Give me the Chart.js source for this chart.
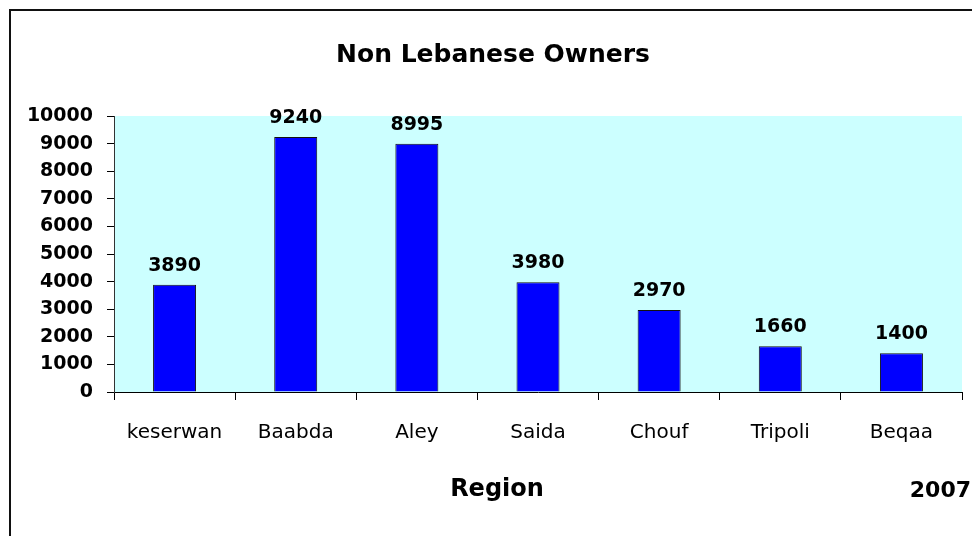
<!DOCTYPE html>
<html>
<head>
<meta charset="utf-8">
<script src="https://cdn.jsdelivr.net/npm/chart.js@4"></script>
<style>
  html, body { margin: 0; padding: 0; background: #fff; }
  #wrap { width: 972px; height: 536px; position: relative; }
</style>
</head>
<body>
<div id="wrap"><canvas id="ownersChart" width="972" height="536"></canvas></div>
<script>
// --- Data ---
const regions = ['keserwan', 'Baabda', 'Aley', 'Saida', 'Chouf', 'Tripoli', 'Beqaa'];
const owners = [3890, 9240, 8995, 3980, 2970, 1660, 1400];
const yMin = 0;
const yMax = 10000;
const yStep = 1000;
const chartTitle = 'Non Lebanese Owners';
const xTitle = 'Region';
const yearLabel = '2007';

const numFont = "'DejaVu Sans', sans-serif";
const comicFont = "'Comic Sans MS', 'DejaVu Sans', sans-serif";

// Plot background, frame and the loose texts
const decorations = {
    id: 'decorations',
    beforeDraw(chart) {
        const { ctx, chartArea } = chart;
        ctx.save();
        ctx.fillStyle = '#CCFFFF';
        ctx.fillRect(chartArea.left, chartArea.top, chartArea.right - chartArea.left, chartArea.bottom - chartArea.top);
        ctx.restore();
    },
    afterDraw(chart) {
        const { ctx } = chart;
        ctx.save();
        // outer frame (only left + top visible in the original)
        ctx.strokeStyle = '#111';
        ctx.lineWidth = 2;
        ctx.beginPath();
        ctx.moveTo(10, 536);
        ctx.lineTo(10, 10);
        ctx.lineTo(972, 10);
        ctx.stroke();

        ctx.fillStyle = '#000';
        ctx.textBaseline = 'middle';
        ctx.textAlign = 'center';
        ctx.font = 'bold 25px ' + comicFont;
        ctx.fillText(chartTitle, 493, 55);

        ctx.font = 'bold 24px ' + comicFont;
        ctx.fillText(xTitle, 497, 490);

        ctx.textAlign = 'right';
        ctx.font = 'bold 22px ' + numFont;
        ctx.fillText(yearLabel, 971, 491);
        ctx.restore();
    },
    afterDatasetsDraw(chart) {
        const { ctx } = chart;
        const meta = chart.getDatasetMeta(0);
        ctx.save();
        ctx.fillStyle = '#000';
        ctx.font = 'bold 19px ' + numFont;
        ctx.textAlign = 'center';
        ctx.textBaseline = 'alphabetic';
        meta.data.forEach((bar, i) => {
            ctx.fillText(String(owners[i]), bar.x, bar.y - 14);
        });
        ctx.restore();
    }
};

new Chart(document.getElementById('ownersChart'), {
    type: 'bar',
    data: {
        labels: regions,
        datasets: [{
            data: owners,
            backgroundColor: '#0000FF',
            borderColor: '#111',
            borderWidth: 1,
            borderSkipped: 'bottom',
            barPercentage: 0.355,
            categoryPercentage: 1.0
        }]
    },
    options: {
        responsive: false,
        animation: false,
        layout: { padding: { left: 0, right: 10, top: 116, bottom: 84 } },
        plugins: {
            legend: { display: false },
            title: { display: false },
            tooltip: { enabled: false }
        },
        scales: {
            x: {
                offset: true,
                grid: { offset: true, drawOnChartArea: false, tickLength: 8, color: '#000', tickColor: '#000' },
                border: { color: '#000', width: 1 },
                ticks: { color: '#000', font: { family: comicFont, size: 20 }, padding: 21, maxRotation: 0 },
                afterFit(scale) { scale.height = 60; }
            },
            y: {
                min: yMin,
                max: yMax,
                grid: { drawOnChartArea: false, tickLength: 7, color: '#000', tickColor: '#000' },
                border: { color: '#333', width: 1 },
                ticks: {
                    stepSize: yStep,
                    color: '#000',
                    font: { family: numFont, size: 19, weight: 'bold' },
                    padding: 14,
                    callback: (value) => String(value)
                },
                afterFit(scale) { scale.width = 114; }
            }
        }
    },
    plugins: [decorations]
});
</script>
</body>
</html>
